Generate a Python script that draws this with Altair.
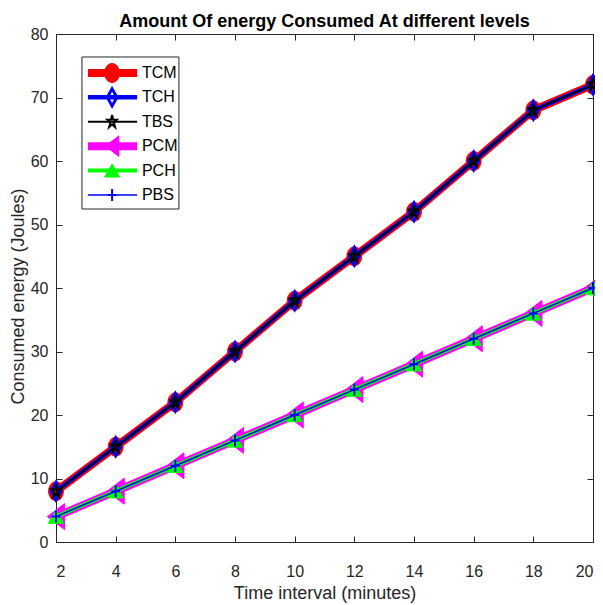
import altair as alt
import pandas as pd

# ---------------- data ----------------
time_min = [2, 4, 6, 8, 10, 12, 14, 16, 18, 20]
tcm = [8, 15, 22, 30, 38, 45, 52, 60, 68, 72]
tch = [8, 15, 22, 30, 38, 45, 52, 60, 68, 72]
tbs = [8, 15, 22, 30, 38, 45, 52, 60, 68, 72]
pcm = [4, 8, 12, 16, 20, 24, 28, 32, 36, 40]
pch = [4, 8, 12, 16, 20, 24, 28, 32, 36, 40]
pbs = [4, 8, 12, 16, 20, 24, 28, 32, 36, 40]
series_names = ["TCM", "TCH", "TBS", "PCM", "PCH", "PBS"]
series_values = [tcm, tch, tbs, pcm, pch, pbs]
x_ticks = [2, 4, 6, 8, 10, 12, 14, 16, 18, 20]
y_ticks = [0, 10, 20, 30, 40, 50, 60, 70, 80]

title_text = "Amount Of energy Consumed At different levels"
x_title = "Time interval (minutes)"
y_title = "Consumed energy (Joules)"

# ---------------- styles ----------------
FONT = "Liberation Sans, Arial"
AX = "#262626"

ELLIPSE = "M-0.78,0A0.78,1,0,1,0,0.78,0A0.78,1,0,1,0,-0.78,0Z"
DIAMOND = "M0,-1L0.56,0L0,1L-0.56,0Z"
STAR = ("M0,-1L0.168,-0.309L0.713,-0.309L0.272,0.118L0.441,0.809L0,0.382"
        "L-0.441,0.809L-0.272,0.118L-0.713,-0.309L-0.168,-0.309Z")
LEFT_TRI = "M-0.66,0L0.66,-1L0.66,1Z"
UP_TRI = "M0,-0.87L1,0.87L-1,0.87Z"
PLUS = "M-0.75,0L0.75,0M0,-1L0,1"

styles = {
    "TCM": dict(color="#ff0000", lw=8, shape=ELLIPSE, size=361, lsize=361, filled=True, sw=1),
    "TCH": dict(color="#0000ff", lw=4.5, shape=DIAMOND, size=324, lsize=289, filled=False, sw=3),
    "TBS": dict(color="#000000", lw=2, shape=STAR, size=180, lsize=180, filled=False, sw=2),
    "PCM": dict(color="#ff00ff", lw=8, shape=LEFT_TRI, size=676, lsize=420, filled=True, sw=1),
    "PCH": dict(color="#00ff00", lw=4, shape=UP_TRI, size=240, lsize=225, filled=True, sw=1),
    "PBS": dict(color="#0000ff", lw=1.5, shape=PLUS, size=144, lsize=144, filled=False, sw=2),
}

# legend placement (data units)
leg_box = dict(x1=2.87, x2=6.12, y1=52.44, y2=76.38)
leg_line_x = (3.07, 4.72)
leg_marker_x = 3.88
leg_label_x = 4.88
leg_row_top = 73.86
leg_row_step = 3.84

# ---------------- build ----------------
rows = []
for name, vals in zip(series_names, series_values):
    for t, v in zip(time_min, vals):
        rows.append({"series": name, "time": t, "energy": v})
df = pd.DataFrame(rows)

xscale = alt.Scale(domain=[2, 20], nice=False, zero=False)
yscale = alt.Scale(domain=[0, 80], nice=False, zero=False)


def xenc(field="time", axis=None):
    return alt.X(f"{field}:Q", scale=xscale, axis=axis)


def yenc(field="energy", axis=None):
    return alt.Y(f"{field}:Q", scale=yscale, axis=axis)


axis_common = dict(
    grid=False, domainColor=AX, domainWidth=1, tickColor=AX, tickWidth=1,
    tickSize={"expr": "-6"}, labelFont=FONT, labelColor=AX, titleFont=FONT,
    titleColor=AX, titleFontWeight="normal",
)

axes_main = alt.Chart(df).mark_point(opacity=0).encode(
    x=xenc(axis=alt.Axis(values=x_ticks, orient="bottom", title=x_title,
                         labelFontSize=16, titleFontSize=18, labelPadding=27,
                         titlePadding=5, **axis_common)),
    y=yenc(axis=alt.Axis(values=y_ticks, orient="left", title=y_title,
                         labelFontSize=16, titleFontSize=18, labelPadding=14,
                         titlePadding=3, titleY=262, **axis_common)),
)
axes_box = alt.Chart(df).mark_point(opacity=0).encode(
    x=xenc(axis=alt.Axis(values=x_ticks, orient="top", labels=False, title=None,
                         **axis_common)),
    y=yenc(axis=alt.Axis(values=y_ticks, orient="right", labels=False, title=None,
                         **axis_common)),
)


def marker(base, st, size):
    if st["filled"]:
        return base.mark_point(shape=st["shape"], size=size, filled=True,
                               fill=st["color"], stroke=st["color"],
                               strokeWidth=st["sw"], opacity=1)
    return base.mark_point(shape=st["shape"], size=size, filled=False,
                           color=st["color"], strokeWidth=st["sw"], opacity=1)


layers = [axes_main, axes_box]
for name in series_names:
    st = styles[name]
    base = alt.Chart(df).transform_filter(alt.datum.series == name)
    line = base.mark_line(color=st["color"], strokeWidth=st["lw"],
                          strokeJoin="round").encode(x=xenc(), y=yenc())
    pts = marker(base, st, st["size"]).encode(x=xenc(), y=yenc())
    layers += [line, pts]

# legend
box_df = pd.DataFrame([leg_box])
legend_box = alt.Chart(box_df).mark_rect(fill="white", stroke="#262626",
                                         strokeWidth=1).encode(
    x=xenc("x1"), x2="x2:Q", y=yenc("y1"), y2="y2:Q")
layers.append(legend_box)

leg_df = pd.DataFrame({
    "series": series_names,
    "y": [leg_row_top - i * leg_row_step for i in range(len(series_names))],
    "xa": [leg_line_x[0]] * len(series_names),
    "xb": [leg_line_x[1]] * len(series_names),
    "xm": [leg_marker_x] * len(series_names),
    "xl": [leg_label_x] * len(series_names),
})
for name in series_names:
    st = styles[name]
    b = alt.Chart(leg_df).transform_filter(alt.datum.series == name)
    rule = b.mark_rule(color=st["color"], strokeWidth=st["lw"]).encode(
        x=xenc("xa"), x2="xb:Q", y=yenc("y"))
    pt = marker(b, st, st["lsize"]).encode(x=xenc("xm"), y=yenc("y"))
    layers += [rule, pt]

labels = alt.Chart(leg_df).mark_text(align="left", baseline="middle", font=FONT,
                                     fontSize=16, color="black").encode(
    x=xenc("xl"), y=yenc("y"), text="series:N")
layers.append(labels)

chart = alt.layer(*layers).resolve_axis(x="independent", y="independent").properties(
    width=537, height=508,
    title=alt.TitleParams(title_text, font=FONT, fontSize=18, fontWeight="bold",
                          color="black", anchor="middle", offset=-5),
    padding={"left": 48, "top": 26, "right": 2, "bottom": 63},
    autosize=alt.AutoSizeParams(type="none"),
).configure_view(stroke=None).configure(background="white")

chart.save("out.html", embed_options={"renderer": "svg", "actions": False})
